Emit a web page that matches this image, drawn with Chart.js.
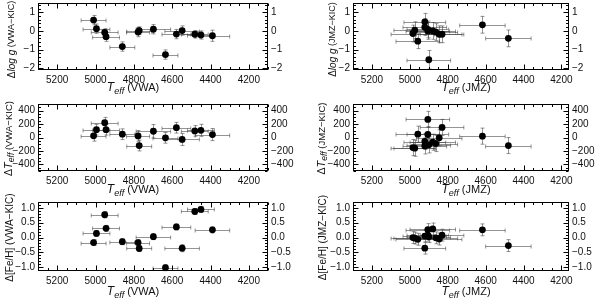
<!DOCTYPE html>
<html>
<head>
<meta charset="utf-8">
<script src="https://cdn.jsdelivr.net/npm/chart.js@4.4.0/dist/chart.umd.min.js"></script>
<style>
  html, body { margin: 0; padding: 0; background: #fff; }
  #wrap { position: relative; width: 600px; height: 299px; overflow: hidden; }
  canvas { position: absolute; }
</style>
</head>
<body>
<div id="wrap">
  <canvas id="c1" width="300" height="106" style="left:0;top:-6px"></canvas>
  <canvas id="c2" width="300" height="106" style="left:300px;top:-6px"></canvas>
  <canvas id="c3" width="300" height="106" style="left:0;top:94px"></canvas>
  <canvas id="c4" width="300" height="106" style="left:300px;top:94px"></canvas>
  <canvas id="c5" width="300" height="106" style="left:0;top:193px"></canvas>
  <canvas id="c6" width="300" height="106" style="left:300px;top:193px"></canvas>
</div>
<script>
// tick labels
const xTicks = [5200, 5000, 4800, 4600, 4400, 4200];
const loggTicks = [1, 0, -1, -2];
const teffTicks = [400, 200, 0, -200, -400];
const fehTicks = [1.0, 0.5, 0.0, -0.5, -1.0];

// VWA sample (left column)
const teffVWA   = [5010, 4995, 4952, 4945, 4860, 4778, 4772, 4698, 4635, 4578, 4548, 4482, 4450, 4390];
const eTeffVWA  = [65, 70, 70, 70, 65, 60, 65, 90, 65, 75, 90, 70, 70, 90];
const dLoggVWA  = [0.58, 0.12, -0.08, -0.31, -0.84, -0.06, 0.02, 0.09, -1.27, -0.17, 0.02, -0.18, -0.22, -0.26];
const eLoggVWA  = [0.25, 0.25, 0.2, 0.25, 0.25, 0.25, 0.2, 0.25, 0.25, 0.25, 0.25, 0.2, 0.22, 0.3];
const dTeffVWA  = [25, 117, 220, 117, 49, 24, -120, 93, -5, 146, -29, 98, 107, 44];
const eDTeffVWA = [80, 80, 80, 80, 80, 80, 80, 100, 80, 80, 90, 80, 90, 90];
const dFehVWA   = [-0.17, 0.14, 0.77, 0.31, -0.14, -0.17, -0.37, 0.03, -1.02, 0.36, -0.36, 0.88, 0.95, 0.26];
const eFehVWA   = [0.1, 0.1, 0.1, 0.1, 0.1, 0.1, 0.1, 0.1, 0.1, 0.1, 0.12, 0.1, 0.1, 0.1];

// JMZ sample (right column)
const teffJMZ   = [4984, 4974, 4958, 4921, 4921, 4905, 4905, 4900, 4879, 4863, 4845, 4830, 4617, 4480];
const eTeffJMZ  = [115, 110, 115, 110, 115, 115, 110, 115, 120, 115, 120, 115, 120, 120];
const dLoggJMZ  = [-0.14, 0.04, -0.55, 0.49, 0.2, 0.0, 0.08, -1.55, 0.0, -0.06, -0.18, -0.18, 0.33, -0.4];
const eLoggJMZ  = [0.45, 0.45, 0.4, 0.45, 0.45, 0.45, 0.45, 0.5, 0.45, 0.45, 0.45, 0.45, 0.45, 0.45];
const dTeffJMZ  = [-150, -160, 50, -60, -125, 270, 45, -110, -70, -90, -5, 150, 20, -120];
const eDTeffJMZ = [120, 120, 120, 120, 120, 120, 120, 120, 120, 120, 120, 120, 120, 120];
const dFehJMZ   = [0.0, -0.02, -0.06, -0.36, 0.05, 0.27, 0.08, 0.03, 0.29, -0.01, -0.05, 0.08, 0.26, -0.27];
const eFehJMZ   = [0.2, 0.2, 0.2, 0.2, 0.2, 0.2, 0.2, 0.2, 0.2, 0.2, 0.2, 0.2, 0.2, 0.2];

const FONT = "'Liberation Sans Narrow','Liberation Sans',Arial,sans-serif";
const W = 300, H = 106, PAD = 6;   // canvases start 6px above their row

const cols = [
  { left: 38, right: 268, xMin: 4100, xMax: 5300, xTitleX: 133 },
  { left: 53, right: 269, xMin: 4160, xMax: 5300, xTitleX: 166 }
];
const rows = [
  { top: 3 + PAD, bottom: 70 + PAD, xTitleY: 88 + PAD, yTitleDy: 3 },
  { top: 4 + PAD, bottom: 71 + PAD, xTitleY: 90 + PAD, yTitleDy: 1 },
  { top: 3 + PAD, bottom: 72 + PAD, xTitleY: 93 + PAD, yTitleDy: 1 }
];

const minus = s => String(s).replace('-', '\u2212');

function teffTitle(tag) {
  return [
    { t: 'T', it: true, size: 12 },
    { t: 'eff', it: true, size: 9, dy: 3 },
    { t: ' (' + tag + ')', size: 11 }
  ];
}

const panels = [
  { id: 'c1', col: 0, row: 0, xs: teffVWA, ex: eTeffVWA, ys: dLoggVWA, ey: eLoggVWA,
    yMin: -2.1, yMax: 1.5, yTicks: loggTicks, minor: 0.2, fmt: v => minus(v),
    xTitle: teffTitle('VWA'), yTitleX: 12,
    yTitle: [{ t: '\u0394', size: 10 }, { t: 'log g', it: true, size: 10 }, { t: ' (VWA\u2212KIC)', size: 9 }] },
  { id: 'c2', col: 1, row: 0, xs: teffJMZ, ex: eTeffJMZ, ys: dLoggJMZ, ey: eLoggJMZ,
    yMin: -2.1, yMax: 1.5, yTicks: loggTicks, minor: 0.2, fmt: v => minus(v),
    xTitle: teffTitle('JMZ'), yTitleX: 33,
    yTitle: [{ t: '\u0394', size: 10 }, { t: 'log g', it: true, size: 10 }, { t: ' (JMZ\u2212KIC)', size: 9 }] },
  { id: 'c3', col: 0, row: 1, xs: teffVWA, ex: eTeffVWA, ys: dTeffVWA, ey: eDTeffVWA,
    yMin: -500, yMax: 500, yTicks: teffTicks, minor: 50, fmt: v => minus(v),
    xTitle: teffTitle('VWA'), yTitleX: 9,
    yTitle: [{ t: '\u0394', size: 10.5 }, { t: 'T', it: true, size: 11 }, { t: 'eff', it: true, size: 8.5, dy: 3 }, { t: ' (VWA\u2212KIC)', size: 9.5 }] },
  { id: 'c4', col: 1, row: 1, xs: teffJMZ, ex: eTeffJMZ, ys: dTeffJMZ, ey: eDTeffJMZ,
    yMin: -500, yMax: 500, yTicks: teffTicks, minor: 50, fmt: v => minus(v),
    xTitle: teffTitle('JMZ'), yTitleX: 22,
    yTitle: [{ t: '\u0394', size: 10.5 }, { t: 'T', it: true, size: 11 }, { t: 'eff', it: true, size: 8.5, dy: 3 }, { t: ' (JMZ\u2212KIC)', size: 9.5 }] },
  { id: 'c5', col: 0, row: 2, xs: teffVWA, ex: eTeffVWA, ys: dFehVWA, ey: eFehVWA,
    yMin: -1.13, yMax: 1.2, yTicks: fehTicks, minor: 0.1, fmt: v => minus(v.toFixed(1)),
    xTitle: teffTitle('VWA'), yTitleX: 10,
    yTitle: [{ t: '\u0394[Fe/H] (VWA\u2212KIC)', size: 10 }] },
  { id: 'c6', col: 1, row: 2, xs: teffJMZ, ex: eTeffJMZ, ys: dFehJMZ, ey: eFehJMZ,
    yMin: -1.13, yMax: 1.2, yTicks: fehTicks, minor: 0.1, fmt: v => minus(v.toFixed(1)),
    xTitle: teffTitle('JMZ'), yTitleX: 23,
    yTitle: [{ t: '\u0394[Fe/H] (JMZ\u2212KIC)', size: 10 }] }
];

function drawRich(ctx, segs, x, y) {
  const fontOf = s => (s.it ? 'italic ' : '') + s.size + 'px ' + FONT;
  let w = 0;
  segs.forEach(s => { ctx.font = fontOf(s); w += ctx.measureText(s.t).width; });
  let cx = x - w / 2;
  ctx.textBaseline = 'middle';
  ctx.textAlign = 'left';
  segs.forEach(s => {
    ctx.font = fontOf(s);
    ctx.fillText(s.t, cx, y + (s.dy || 0));
    cx += ctx.measureText(s.t).width;
  });
}

function makeFrame(p) {
  return {
    id: 'frame',
    beforeDatasetsDraw(chart) {
      const ctx = chart.ctx, xs = chart.scales.x, ys = chart.scales.y;
      ctx.save();
      ctx.strokeStyle = 'rgba(60,60,60,0.55)';
      ctx.lineWidth = 1;
      p.xs.forEach((x, i) => {
        const px = Math.round(xs.getPixelForValue(x)) + 0.5;
        const py = Math.round(ys.getPixelForValue(p.ys[i])) + 0.5;
        const x1 = xs.getPixelForValue(x - p.ex[i]), x2 = xs.getPixelForValue(x + p.ex[i]);
        const y1 = ys.getPixelForValue(p.ys[i] - p.ey[i]), y2 = ys.getPixelForValue(p.ys[i] + p.ey[i]);
        ctx.beginPath();
        ctx.moveTo(x1, py); ctx.lineTo(x2, py);
        ctx.moveTo(x1, py - 2); ctx.lineTo(x1, py + 2);
        ctx.moveTo(x2, py - 2); ctx.lineTo(x2, py + 2);
        ctx.moveTo(px, y1); ctx.lineTo(px, y2);
        ctx.moveTo(px - 2, y1); ctx.lineTo(px + 2, y1);
        ctx.moveTo(px - 2, y2); ctx.lineTo(px + 2, y2);
        ctx.stroke();
      });
      ctx.restore();
    },
    afterDraw(chart) {
      const ctx = chart.ctx, a = chart.chartArea;
      const xs = chart.scales.x, ys = chart.scales.y;
      const L = Math.round(a.left) + 0.5, R = Math.round(a.right) - 0.5;
      const T = Math.round(a.top) + 0.5, B = Math.round(a.bottom) - 0.5;
      ctx.save();
      ctx.strokeStyle = '#000';
      ctx.lineWidth = 1;
      ctx.strokeRect(L, T, R - L, B - T);
      ctx.beginPath();
      // x ticks, top and bottom
      for (let v = Math.ceil(xs.min / 50) * 50; v <= xs.max; v += 50) {
        const px = Math.round(xs.getPixelForValue(v)) + 0.5;
        const len = v % 200 === 0 ? 5 : 2.5;
        ctx.moveTo(px, B); ctx.lineTo(px, B - len);
        ctx.moveTo(px, T); ctx.lineTo(px, T + len);
      }
      // y ticks, left and right
      const n0 = Math.ceil(ys.min / p.minor - 1e-6), n1 = Math.floor(ys.max / p.minor + 1e-6);
      for (let n = n0; n <= n1; n++) {
        const v = n * p.minor;
        const py = Math.round(ys.getPixelForValue(v)) + 0.5;
        const major = p.yTicks.some(t => Math.abs(t - v) < 1e-6);
        const len = major ? 5 : 2.5;
        ctx.moveTo(L, py); ctx.lineTo(L + len, py);
        ctx.moveTo(R, py); ctx.lineTo(R - len, py);
      }
      ctx.stroke();

      ctx.fillStyle = '#111';
      drawRich(ctx, p.xTitle, cols[p.col].xTitleX, rows[p.row].xTitleY);
      ctx.translate(p.yTitleX, (a.top + a.bottom) / 2 + rows[p.row].yTitleDy);
      ctx.rotate(-Math.PI / 2);
      drawRich(ctx, p.yTitle, 0, 0);
      ctx.restore();
    }
  };
}

function yScale(p, position, width) {
  return {
    type: 'linear',
    position: position,
    min: p.yMin,
    max: p.yMax,
    grid: { display: false, drawTicks: false },
    border: { display: false },
    ticks: {
      autoSkip: false,
      padding: 3,
      color: '#111',
      font: { family: FONT, size: 10 },
      callback: v => p.fmt(v)
    },
    afterBuildTicks: s => { s.ticks = p.yTicks.map(v => ({ value: v })); },
    afterFit: s => {
      s.width = width;
      s.paddingTop = 0; s.paddingBottom = 0; s.paddingLeft = 0; s.paddingRight = 0;
    }
  };
}

panels.forEach(p => {
  const col = cols[p.col], row = rows[p.row];
  new Chart(document.getElementById(p.id), {
    type: 'scatter',
    data: {
      datasets: [{
        data: p.xs.map((x, i) => ({ x: x, y: p.ys[i] })),
        pointRadius: 3.4,
        pointHoverRadius: 3.4,
        pointBackgroundColor: '#000',
        pointBorderWidth: 0
      }]
    },
    options: {
      responsive: false,
      animation: false,
      events: [],
      layout: { padding: { top: row.top, left: 0, right: 0, bottom: 0 } },
      plugins: { legend: { display: false }, tooltip: { enabled: false } },
      scales: {
        x: {
          type: 'linear',
          position: 'bottom',
          reverse: true,
          min: col.xMin,
          max: col.xMax,
          grid: { display: false, drawTicks: false },
          border: { display: false },
          ticks: {
            autoSkip: false,
            maxRotation: 0,
            padding: 4,
            color: '#111',
            font: { family: FONT, size: 10 },
            callback: v => String(v)
          },
          afterBuildTicks: s => { s.ticks = xTicks.map(v => ({ value: v })); },
          afterFit: s => {
            s.height = H - row.bottom;
            s.paddingTop = 0; s.paddingBottom = 0; s.paddingLeft = 0; s.paddingRight = 0;
          }
        },
        y: yScale(p, 'left', col.left),
        y2: yScale(p, 'right', W - col.right)
      }
    },
    plugins: [makeFrame(p)]
  });
});
</script>
</body>
</html>
